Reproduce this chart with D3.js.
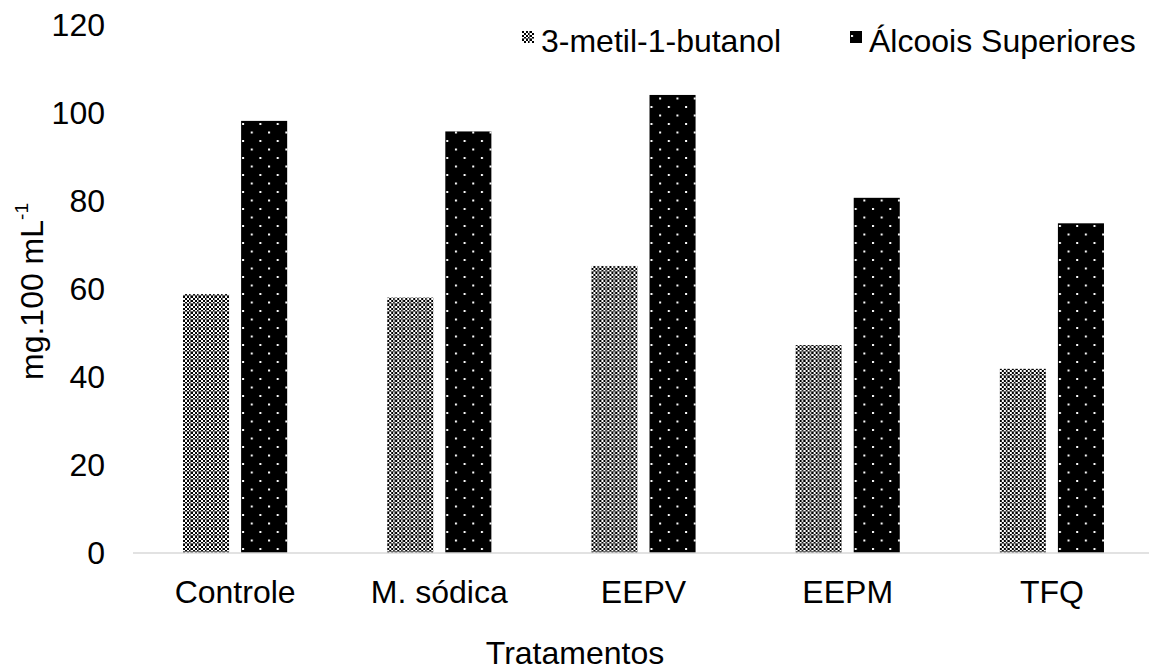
<!DOCTYPE html>
<html>
<head>
<meta charset="utf-8">
<script src="https://cdn.jsdelivr.net/npm/d3@7"></script>
<style>
  html, body { margin: 0; padding: 0; background: #fff; }
  svg { display: block; font-family: "Liberation Sans", Arial, sans-serif; }
</style>
</head>
<body>
<svg id="chart" width="1149" height="671"></svg>
<script>
// Treatments and measured values (mg.100 mL-1)
const categories = ["Controle", "M. sódica", "EEPV", "EEPM", "TFQ"];
const seriesNames = ["3-metil-1-butanol", "Álcoois Superiores"];
const butanol = [58.9, 58.1, 65.3, 47.3, 41.9];
const alcoois = [98.3, 95.9, 104.2, 80.8, 75.0];
const yTicks = [0, 20, 40, 60, 80, 100, 120];

const rows = categories.map((c, i) => ({ cat: c, values: [butanol[i], alcoois[i]] }));

const svg = d3.select("#chart");
const W = 1149, H = 671;
const plotLeft = 133, plotRight = 1154, plotTop = 25.5, plotBottom = 553;
const fontSize = 32;
const fontFamily = "Liberation Sans, Arial, sans-serif";

// Fill patterns: grey checkerboard and black with white dots
const defs = svg.append("defs");
const checker = defs.append("pattern")
  .attr("id", "checker").attr("patternUnits", "userSpaceOnUse")
  .attr("width", 8).attr("height", 8);
checker.append("rect").attr("width", 8).attr("height", 8).attr("fill", "#fff");
for (let yy = 0; yy < 8; yy += 2) {
  for (let xx = 0; xx < 8; xx += 2) {
    if (((xx + yy) / 2) % 2 === 0) {
      checker.append("rect").attr("x", xx).attr("y", yy).attr("width", 2).attr("height", 2).attr("fill", "#000");
    }
  }
}
checker.append("rect").attr("x", 7).attr("y", 0).attr("width", 1).attr("height", 8).attr("fill", "#6e6e6e");
checker.append("rect").attr("x", 0).attr("y", 7).attr("width", 8).attr("height", 1).attr("fill", "#6e6e6e");

const dots = defs.append("pattern")
  .attr("id", "dots").attr("patternUnits", "userSpaceOnUse")
  .attr("width", 17.3).attr("height", 17);
dots.append("rect").attr("width", 17.3).attr("height", 17).attr("fill", "#000");
dots.append("rect").attr("x", 1).attr("y", 4).attr("width", 2).attr("height", 2).attr("fill", "#fff");
dots.append("rect").attr("x", 9.65).attr("y", 12.5).attr("width", 2).attr("height", 2).attr("fill", "#fff");

const fills = ["url(#checker)", "url(#dots)"];

// Scales
const x0 = d3.scaleBand().domain(categories).range([plotLeft, plotRight])
  .paddingInner(0.49).paddingOuter(0.245);
const x1 = d3.scaleBand().domain(d3.range(seriesNames.length)).range([0, x0.bandwidth()])
  .paddingInner(0.207).paddingOuter(0);
const y = d3.scaleLinear().domain([0, 120]).range([plotBottom, plotTop]);

// Bars: each bar sits in its own translated group so its fill pattern starts at the bar edge
const groups = svg.append("g").selectAll("g").data(rows).join("g")
  .attr("transform", d => `translate(${x0(d.cat)},0)`);
const bars = groups.selectAll("g").data(d => d.values.map((v, i) => ({ v, i }))).join("g")
  .attr("transform", d => `translate(${x1(d.i)},0)`);
bars.append("rect")
  .attr("x", 0)
  .attr("y", d => y(d.v))
  .attr("width", x1.bandwidth())
  .attr("height", d => y(0) - y(d.v))
  .attr("fill", d => fills[d.i]);

// Y axis (labels only)
const yAxis = svg.append("g").attr("transform", `translate(${plotLeft},0)`)
  .call(d3.axisLeft(y).tickValues(yTicks).tickSize(0).tickPadding(28));
yAxis.select(".domain").remove();
yAxis.selectAll("text").attr("font-size", fontSize).attr("fill", "#000")
  .attr("font-family", fontFamily);

// X axis with light grey baseline
const xAxis = svg.append("g").attr("transform", `translate(0,${plotBottom})`)
  .call(d3.axisBottom(x0).tickSize(0).tickPadding(27).tickSizeOuter(0));
xAxis.select(".domain").attr("stroke", "#d9d9d9").attr("stroke-width", 1.4)
  .attr("d", `M${plotLeft},0H${W}`);
xAxis.selectAll("text").attr("font-size", fontSize).attr("fill", "#000")
  .attr("font-family", fontFamily);

// Axis titles
svg.append("text")
  .attr("x", 575).attr("y", 664)
  .attr("text-anchor", "middle").attr("font-size", fontSize).attr("fill", "#000")
  .attr("font-family", fontFamily)
  .text("Tratamentos");

const yTitle = svg.append("text")
  .attr("transform", `translate(43,380) rotate(-90)`)
  .attr("text-anchor", "start").attr("font-size", fontSize).attr("fill", "#000")
  .attr("font-family", fontFamily);
yTitle.append("tspan").text("mg.100 mL");
yTitle.append("tspan").attr("dy", -15).attr("font-size", 19).text("-1");

// Legend
const legendItems = [
  { name: seriesNames[0], fill: fills[0], x: 522 },
  { name: seriesNames[1], fill: fills[1], x: 850 }
];
const lg = svg.append("g").selectAll("g").data(legendItems).join("g")
  .attr("transform", d => `translate(${d.x},31)`);
lg.append("rect").attr("x", 0).attr("y", 0).attr("width", 12).attr("height", 12)
  .attr("fill", d => d.fill);
lg.append("text").attr("x", 19).attr("y", 21).attr("font-size", fontSize).attr("fill", "#000")
  .attr("font-family", fontFamily)
  .text(d => d.name);
</script>
</body>
</html>
